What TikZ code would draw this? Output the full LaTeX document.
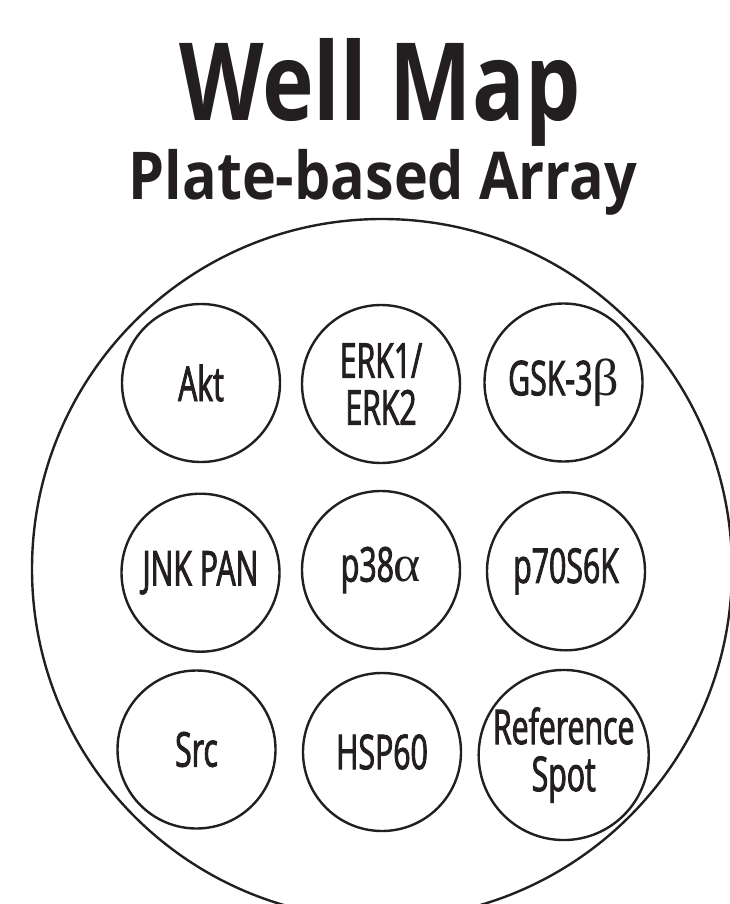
\documentclass[tikz,border=0pt]{standalone}
\usepackage{fontspec}
\setmainfont{Open Sans}
\newfontfamily\titlefont[FakeStretch=0.81]{Open Sans}
\newfontfamily\subtitlefont[FakeStretch=0.87]{Open Sans}
\newfontfamily\wellfont[FakeStretch=0.63, FakeBold=1.8]{Open Sans}
\newfontfamily\greekfont{Liberation Serif}
\newcommand{\gr}[1]{{\greekfont\fontsize{52}{46}\selectfont #1}}
\definecolor{ink}{HTML}{231F20}
\tikzset{
    well/.style={circle, draw=ink, line width=2.4pt, minimum size=158pt, inner sep=0pt,
        align=center, text=ink, font=\wellfont\fontsize{48}{47}\selectfont},
}
\begin{document}
\begin{tikzpicture}[x=1pt, y=-1pt]
            \useasboundingbox (0,0) rectangle (730,904);

            % ==== TITLE ====
            \node[anchor=base, text=ink, font=\titlefont\bfseries\fontsize{108}{108}\selectfont] (title) at (380,121) {Well Map};
            \node[anchor=base, text=ink, font=\subtitlefont\bfseries\fontsize{66}{66}\selectfont] (subtitle) at (383,200) {Plate-based Array};

            % ==== PLATE WELL ====
            \draw[ink, line width=2.4pt] (382,569) circle (350);

            % ==== SPOTS ====
            \node[well] (akt) at (201,383) {Akt};
            \node[well] (erk) at (381,384) {ERK1/\\ERK2};
            \node[well] (gsk) at (563.5,382.5) {GSK-3\gr{β}};

            \node[well] (jnk) at (200.5,572.7) {JNK PAN};
            \node[well] (pthirtyeight) at (381,570) {p38\gr{α}};
            \node[well] (pseventy) at (566,571.3) {p70S6K};

            \node[well] (src) at (196.5,749.5) {Src};
            \node[well] (hsp) at (382,752) {HSP60};
            \node[well] (ref) at (563.7,755) {Reference\\Spot};
        \end{tikzpicture}
\end{document}
